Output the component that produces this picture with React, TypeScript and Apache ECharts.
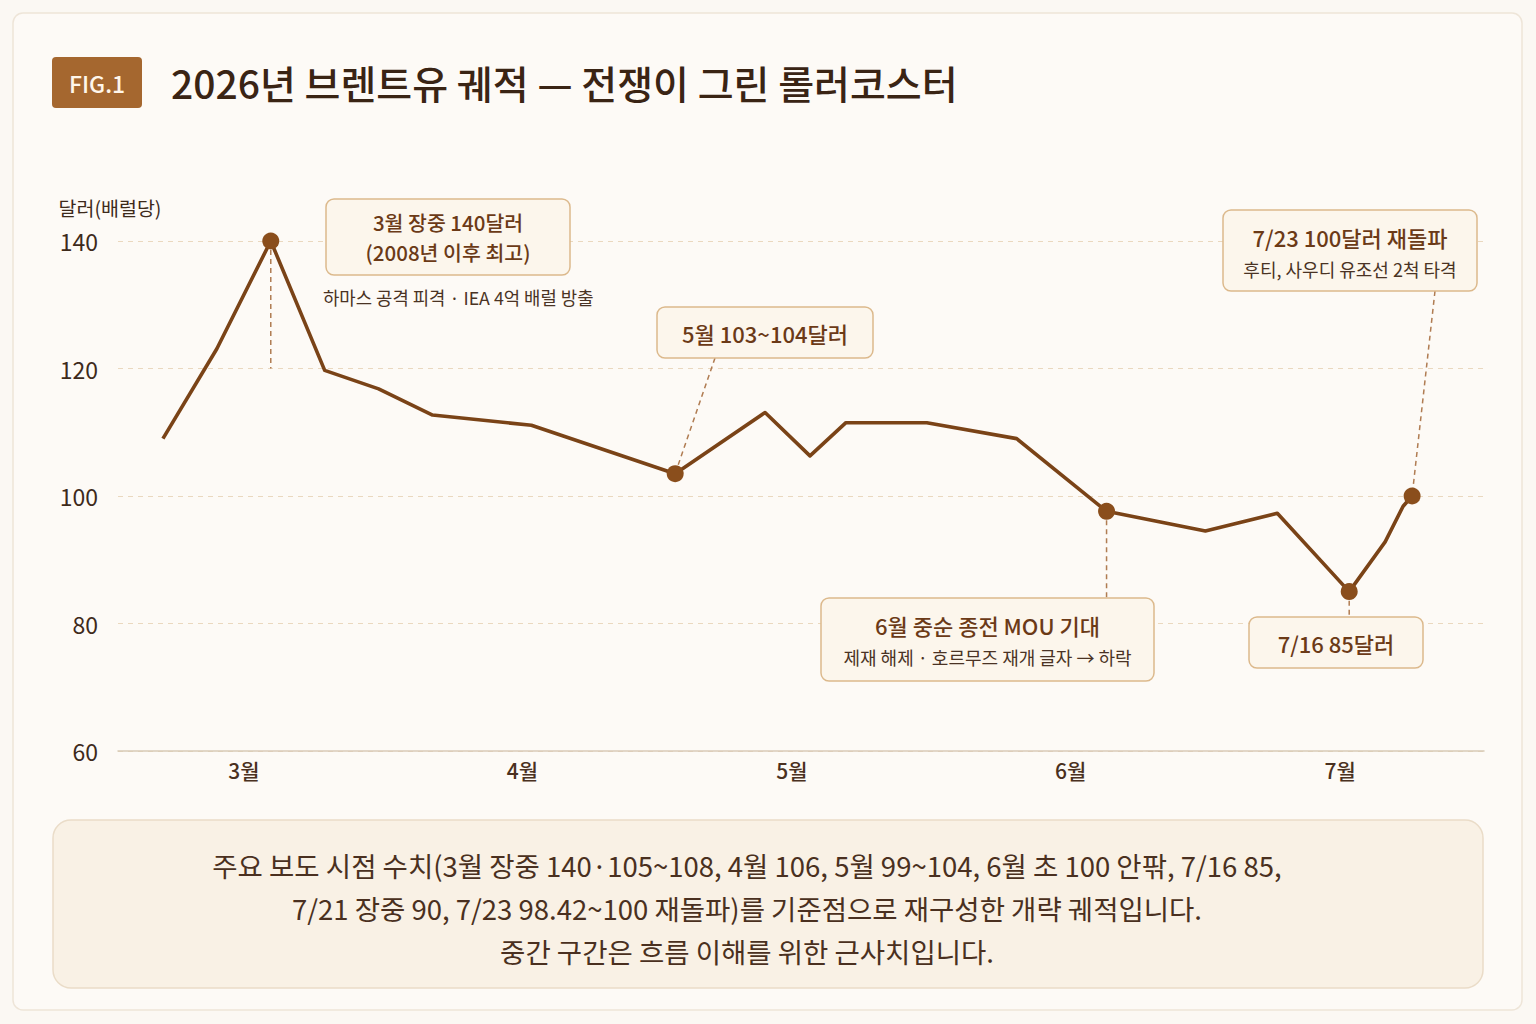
import { useEffect, useRef } from "react";
import * as echarts from "echarts";

const FONT = '"Noto Sans CJK KR", "Noto Sans", sans-serif';

const day = (m: number, d: number) => Date.UTC(2026, m - 1, d);

// Brent price path (USD per barrel), reconstructed around the reported anchor points
const pointDates = [
  day(3, 6), day(3, 12), day(3, 18), day(3, 24), day(3, 30),
  day(4, 5), day(4, 16), day(5, 2), day(5, 12), day(5, 17),
  day(5, 21), day(5, 30), day(6, 9), day(6, 19), day(6, 30),
  day(7, 8), day(7, 16), day(7, 20), day(7, 22), day(7, 23),
];
const prices = [
  109.0, 123.1, 140, 119.7, 116.8,
  112.7, 111.1, 103.5, 113.1, 106.3,
  111.5, 111.5, 109.0, 97.6, 94.5,
  97.3, 85, 92.8, 98.4, 100,
];

// Highlighted events (indices into the arrays above)
const keyIndex = [2, 7, 13, 16, 19];

const monthLabelDays = [day(3, 15), day(4, 15), day(5, 15), day(6, 15), day(7, 15)];
const yMin = 60;
const yMax = 140;
const yStep = 20;

const titleText = "2026년 브렌트유 궤적 — 전쟁이 그린 롤러코스터";
const footnoteLines = [
  "주요 보도 시점 수치(3월 장중 140·105~108, 4월 106, 5월 99~104, 6월 초 100 안팎, 7/16 85,",
  "7/21 장중 90, 7/23 98.42~100 재돌파)를 기준점으로 재구성한 개략 궤적입니다.",
  "중간 구간은 흐름 이해를 위한 근사치입니다.",
];

type Note = {
  idx: number;
  lines: string[];
  sub?: string;
  subOutside?: boolean;
  box: { x: number; y: number; w: number; h: number };
  leader: "drop120" | "vertical" | "slant";
  leaderFromX?: number;
};

const notes: Note[] = [
  {
    idx: 2,
    lines: ["3월 장중 140달러", "(2008년 이후 최고)"],
    sub: "하마스 공격 피격 · IEA 4억 배럴 방출",
    subOutside: true,
    box: { x: 326, y: 199, w: 244, h: 76 },
    leader: "drop120",
  },
  {
    idx: 7,
    lines: ["5월 103~104달러"],
    box: { x: 657, y: 307, w: 216, h: 51 },
    leader: "slant",
    leaderFromX: 715,
  },
  {
    idx: 13,
    lines: ["6월 중순 종전 MOU 기대"],
    sub: "제재 해제 · 호르무즈 재개 글자 → 하락",
    box: { x: 821, y: 598, w: 333, h: 83 },
    leader: "vertical",
  },
  {
    idx: 16,
    lines: ["7/16 85달러"],
    box: { x: 1249, y: 617, w: 174, h: 51 },
    leader: "vertical",
  },
  {
    idx: 19,
    lines: ["7/23 100달러 재돌파"],
    sub: "후티, 사우디 유조선 2척 타격",
    box: { x: 1223, y: 210, w: 254, h: 81 },
    leader: "slant",
    leaderFromX: 1435,
  },
];

const LINE_COLOR = "#7a4317";
const DOT_COLOR = "#8a4e1c";
const NOTE_TITLE = "#6b3a17";
const NOTE_SUB = "#4a3324";
const LEADER = "#b07c52";

export default function App() {
  const ref = useRef<HTMLDivElement>(null);

  useEffect(() => {
    const el = ref.current;
    if (!el) return;
    const chart = echarts.init(el, null, { renderer: "svg" });

    chart.setOption({
      animation: false,
      backgroundColor: "#fbf8f3",
      textStyle: { fontFamily: FONT },
      grid: { left: 118, right: 52, top: 241, bottom: 273 },
      xAxis: {
        // time measured in UTC milliseconds
        type: "value",
        min: day(3, 1),
        max: day(7, 31),
        axisLine: { show: true, onZero: false, lineStyle: { color: "#d8cab7", width: 1.5 } },
        axisTick: { show: false },
        splitLine: { show: false },
        axisLabel: {
          customValues: monthLabelDays,
          formatter: (v: number) => `${new Date(v).getUTCMonth() + 1}월`,
          color: "#4a3020",
          fontSize: 21,
          fontWeight: 500,
          fontFamily: FONT,
          margin: 8,
        },
      },
      yAxis: {
        type: "value",
        min: yMin,
        max: yMax,
        interval: yStep,
        name: "달러(배럴당)",
        nameLocation: "end",
        nameGap: 24,
        nameTextStyle: {
          color: "#3d2a1b",
          fontSize: 19.5,
          fontFamily: FONT,
          align: "center",
          padding: [0, 16, 0, 0],
        },
        axisLine: { show: false },
        axisTick: { show: false },
        axisLabel: { color: "#3d2a1b", fontSize: 23, fontFamily: FONT, margin: 20 },
        splitLine: { lineStyle: { color: "#ead8bf", type: [5, 5], width: 1.2 } },
      },
      series: [
        {
          type: "line",
          data: pointDates.map((d, i) => [d, prices[i]]),
          showSymbol: false,
          symbol: "none",
          lineStyle: { color: LINE_COLOR, width: 3.6, join: "round" },
          z: 3,
        },
        {
          type: "scatter",
          data: keyIndex.map((i) => [pointDates[i], prices[i]]),
          symbolSize: 17,
          itemStyle: { color: DOT_COLOR, opacity: 1 },
          z: 4,
        },
      ],
    });

    const toPx = (d: number, v: number) =>
      chart.convertToPixel({ gridIndex: 0 }, [d, v]) as number[];

    const elements: any[] = [];

    // Card behind the whole figure
    elements.push({
      type: "rect",
      silent: true,
      z: -100,
      shape: { x: 13, y: 13, width: 1509, height: 997, r: 10 },
      style: { fill: "#fdfaf6", stroke: "#eee5d8", lineWidth: 1.5 },
    });

    // Figure badge and title
    elements.push({
      type: "rect",
      silent: true,
      z: 20,
      shape: { x: 52, y: 57, width: 90, height: 51, r: 4 },
      style: { fill: "#a5672f" },
    });
    elements.push({
      type: "text",
      silent: true,
      z: 21,
      x: 97,
      y: 83,
      style: {
        text: "FIG.1",
        fill: "#fff6ea",
        fontSize: 23,
        fontWeight: 500,
        fontFamily: FONT,
        textAlign: "center",
        textVerticalAlign: "middle",
      },
    });
    elements.push({
      type: "text",
      silent: true,
      z: 21,
      x: 171,
      y: 82,
      style: {
        text: titleText,
        fill: "#3a2414",
        fontSize: 39,
        fontWeight: 500,
        fontFamily: FONT,
        textAlign: "left",
        textVerticalAlign: "middle",
      },
    });

    // Event annotations
    notes.forEach((n) => {
      const [px, py] = toPx(pointDates[n.idx], prices[n.idx]);
      const b = n.box;
      let from: number[];
      let to: number[];
      if (n.leader === "drop120") {
        const [, y120] = toPx(pointDates[n.idx], 120);
        from = [px, py];
        to = [px, y120];
      } else if (n.leader === "vertical") {
        from = [px, py];
        to = [px, b.y];
      } else {
        from = [n.leaderFromX ?? b.x + b.w / 2, b.y + b.h];
        to = [px, py];
      }
      elements.push({
        type: "line",
        silent: true,
        z: 1,
        shape: { x1: from[0], y1: from[1], x2: to[0], y2: to[1] },
        style: { stroke: LEADER, lineWidth: 1.5, lineDash: [5, 4] },
      });
      elements.push({
        type: "rect",
        silent: true,
        z: 10,
        shape: { x: b.x, y: b.y, width: b.w, height: b.h, r: 8 },
        style: { fill: "#fcf6ec", stroke: "#dcb98c", lineWidth: 1.5 },
      });
      const cx = b.x + b.w / 2;
      const hasInnerSub = n.sub && !n.subOutside;
      const multi = n.lines.length > 1;
      const gap = 30;
      n.lines.forEach((t, k) => {
        const y = multi
          ? b.y + b.h / 2 - (gap * (n.lines.length - 1)) / 2 + k * gap
          : hasInnerSub
          ? b.y + 27
          : b.y + b.h / 2;
        elements.push({
          type: "text",
          silent: true,
          z: 11,
          x: cx,
          y,
          style: {
            text: t,
            fill: NOTE_TITLE,
            fontSize: multi ? 20.5 : 22,
            fontWeight: 500,
            fontFamily: FONT,
            textAlign: "center",
            textVerticalAlign: "middle",
          },
        });
      });
      if (n.sub) {
        elements.push({
          type: "text",
          silent: true,
          z: 11,
          x: n.subOutside ? b.x - 3 : cx,
          y: n.subOutside ? b.y + b.h + 22 : b.y + 59,
          style: {
            text: n.sub,
            fill: NOTE_SUB,
            fontSize: n.subOutside ? 17.8 : 18,
            fontFamily: FONT,
            textAlign: n.subOutside ? "left" : "center",
            textVerticalAlign: "middle",
          },
        });
      }
    });

    // Source note panel
    elements.push({
      type: "rect",
      silent: true,
      z: 5,
      shape: { x: 53, y: 820, width: 1430, height: 168, r: 18 },
      style: { fill: "#f9f1e5", stroke: "#eadcc8", lineWidth: 1.5 },
    });
    footnoteLines.forEach((t, k) => {
      elements.push({
        type: "text",
        silent: true,
        z: 6,
        x: 747,
        y: 865 + k * 43,
        style: {
          text: t,
          fill: "#4a3020",
          fontSize: 27.5,
          fontFamily: FONT,
          textAlign: "center",
          textVerticalAlign: "middle",
        },
      });
    });

    chart.setOption({ graphic: { elements } });

    return () => chart.dispose();
  }, []);

  return (
    <div style={{ position: "absolute", left: 0, top: 0, width: 1536, height: 1024 }}>
      <div ref={ref} style={{ width: 1536, height: 1024 }} />
    </div>
  );
}
